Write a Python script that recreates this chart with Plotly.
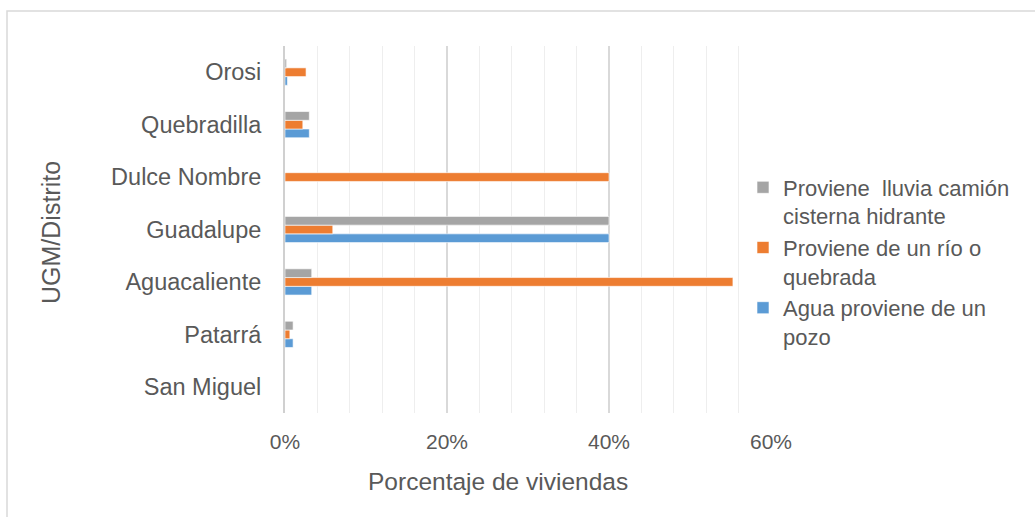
import plotly.graph_objects as go

categories = ["San Miguel", "Patarrá", "Aguacaliente", "Guadalupe", "Dulce Nombre", "Quebradilla", "Orosi"]
pozo = [0.0, 0.010, 0.033, 0.40, 0.0, 0.030, 0.003]
rio = [0.0, 0.006, 0.553, 0.059, 0.40, 0.022, 0.026]
lluvia = [0.0, 0.010, 0.033, 0.40, 0.0, 0.030, 0.002]
x_ticks = [0, 0.2, 0.4, 0.6]
x_ticktext = ["0%", "20%", "40%", "60%"]

series_names = [
    "Agua proviene de un<br>pozo",
    "Proviene de un río o<br>quebrada",
    "Proviene  lluvia camión<br>cisterna hidrante",
]
colors = ["#5b9bd5", "#ed7d31", "#a5a5a5"]

W, H = 1035, 517
L, R, T, B = 285, 771, 46, 413
pw, ph = R - L, B - T

def px(x):
    return (x - L) / pw

def py(y):
    return (B - y) / ph

font_fam = "Liberation Sans, Arial, sans-serif"
txt = "#595959"

fig = go.Figure()
for vals, name, col in zip([pozo, rio, lluvia], series_names, colors):
    fig.add_trace(go.Bar(
        y=categories, x=vals, name=name, orientation="h",
        marker=dict(color=col, line=dict(color="white", width=0.6)),
    ))

fig.update_layout(
    width=W, height=H,
    margin=dict(l=L, r=W - R, t=T, b=H - B, autoexpand=False),
    paper_bgcolor="white", plot_bgcolor="white",
    barmode="group", bargap=0.5, bargroupgap=0,
    font=dict(family=font_fam, color=txt, size=21),
    showlegend=True,
    legend=dict(
        x=px(743), xanchor="left", y=py(262), yanchor="middle",
        traceorder="reversed", valign="top",
        font=dict(size=22, color=txt, family=font_fam),
        bgcolor="rgba(0,0,0,0)", itemclick=False,
    ),
    xaxis=dict(
        range=[0, 0.6], tickvals=x_ticks, ticktext=x_ticktext,
        showgrid=True, gridcolor="#d9d9d9", gridwidth=1.5,
        minor=dict(dtick=0.04, tick0=0, showgrid=True, gridcolor="#eeeeee", gridwidth=1.2),
        zeroline=False, showline=False, ticks="",
        ticklabelstandoff=14,
        tickfont=dict(size=21, color=txt),
        fixedrange=True,
    ),
    yaxis=dict(
        type="category", categoryorder="array", categoryarray=categories,
        showgrid=False, zeroline=False,
        showline=True, linecolor="#d0d0d0", linewidth=2,
        ticks="", ticklabelstandoff=17,
        tickfont=dict(size=23.5, color=txt),
        fixedrange=True,
    ),
    shapes=[dict(
        type="rect", xref="paper", yref="paper",
        x0=px(7), x1=px(1045), y0=py(530), y1=py(11),
        line=dict(color="#d9d9d9", width=1.5), fillcolor="rgba(0,0,0,0)", layer="below",
    )],
    annotations=[
        dict(text="Porcentaje de viviendas", xref="paper", yref="paper",
             x=px(498), y=py(481), xanchor="center", yanchor="middle",
             showarrow=False, font=dict(size=24.5, color=txt, family=font_fam)),
        dict(text="UGM/Distrito", xref="paper", yref="paper",
             x=px(51), y=py(233), xanchor="center", yanchor="middle", textangle=-90,
             showarrow=False, font=dict(size=25, color=txt, family=font_fam)),
    ],
)

fig.write_html("out.html", config={"displayModeBar": False},
               post_script="document.body.style.margin='0';")
